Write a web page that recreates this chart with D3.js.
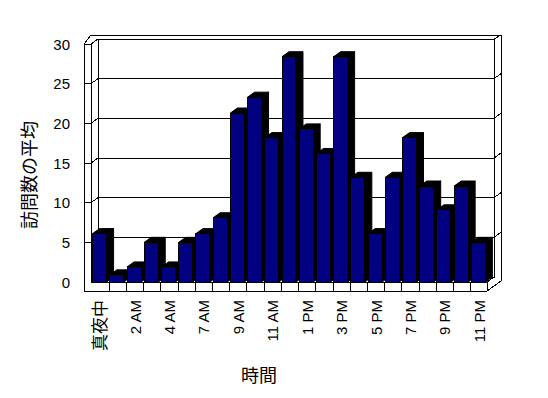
<!DOCTYPE html>
<html>
<head>
<meta charset="utf-8">
<script src="https://cdn.jsdelivr.net/npm/d3@7"></script>
<style>
  body { margin: 0; background: #fff; }
  text { font-family: "Liberation Sans", "Noto Sans CJK JP", sans-serif; fill: #000; }
</style>
</head>
<body>
<svg id="chart" width="548" height="398"></svg>
<script>
var hours = ['真夜中', '1 AM', '2 AM', '3 AM', '4 AM', '6 AM', '7 AM', '8 AM', '9 AM', '10 AM', '11 AM', '12 PM',
  '1 PM', '2 PM', '3 PM', '4 PM', '5 PM', '6 PM', '7 PM', '8 PM', '9 PM', '10 PM', '11 PM']
var visits = [6.1, 0.9, 1.9, 5.0, 1.9, 5.0, 6.1, 8.1, 21.3, 23.3, 18.2, 28.4,
  19.3, 16.2, 28.4, 13.2, 6.1, 13.2, 18.2, 12.1, 9.1, 12.1, 5.0]
var yTicks = [0, 5, 10, 15, 20, 25, 30]
var yTitle = '訪問数の平均'
var xTitle = '時間'

var svg = d3.select('#chart')
svg.append('rect').attr('width', 548).attr('height', 398).attr('fill', '#fff')

// oblique depth: front plane -> back plane
var dx = 7, dy = -5
var wallX = 84, floorY = 291

var x = d3.scaleBand().domain(hours).range([91, 487]).paddingInner(0.19).paddingOuter(0.095)
var y = d3.scaleLinear().domain([0, 30]).range([282, 44])
var step = x.step(), bw = x.bandwidth()
var fx0 = x.range()[0], fx1 = x.range()[1]
var y0 = y(0), yTop = y(30)

var frame = svg.append('g')
  .attr('fill', 'none').attr('stroke', '#000').attr('stroke-width', 1)
  .attr('shape-rendering', 'crispEdges')

function line(g, pts){
  g.append('path').attr('d', d3.line()(pts))
}

// outer outline of walls + floor
frame.append('path')
  .attr('fill', '#fff')
  .attr('d', d3.line()([
    [wallX, floorY], [wallX, yTop], [fx0, yTop + dy - 4], [fx1 + 2*dx, yTop + dy - 4],
    [fx1 + 2*dx, y0 - 1], [fx1, floorY], [wallX, floorY]
  ]))

// back wall face
frame.append('rect')
  .attr('x', fx0 + dx).attr('y', yTop + dy)
  .attr('width', fx1 - fx0).attr('height', y0 - yTop)
  .attr('fill', '#fff')

// left wall inner edge, top joins
line(frame, [[fx0, yTop], [fx0, y0]])
line(frame, [[wallX, yTop], [fx0, yTop], [fx0 + dx, yTop + dy]])
line(frame, [[fx1 + dx, yTop + dy], [fx1 + 2*dx, yTop + 2*dy + 1]])

// gridlines on walls
yTicks.filter(d => d > 0 && d < 30).forEach(v => {
  var yy = y(v)
  line(frame, [[wallX, yy], [fx0, yy], [fx0 + dx, yy + dy], [fx1 + dx, yy + dy], [fx1 + 2*dx, yy + 2*dy]])
})

// floor
line(frame, [[fx0, y0], [fx0 + dx, y0 + dy]])
line(frame, [[fx0, y0], [fx1, y0], [fx1 + dx, y0 + dy]])
line(frame, [[fx1, y0], [fx1, floorY]])
d3.range(1, hours.length).forEach(i => {
  var xx = fx0 + i*step + 1
  line(frame, [[xx, y0], [xx, floorY]])
})

// bars, left to right so the next front face hides the previous side
var barSel = svg.append('g').selectAll('g')
  .data(hours.map((h, i) => ({h, v: visits[i]})))
  .join('g')

barSel.append('path')
  .attr('fill', '#000').attr('stroke', '#000')
  .attr('d', d => {
    var xl = x(d.h), xr = x(d.h) + bw, yt = y(d.v)
    return d3.line()([[xr, yt], [xr + dx, yt + dy], [xr + dx, y0 + dy], [xr, y0]]) + 'Z' +
      d3.line()([[xl, yt], [xl + dx, yt + dy], [xr + dx, yt + dy], [xr, yt]]) + 'Z'
  })

barSel.append('rect')
  .attr('x', d => x(d.h)).attr('y', d => y(d.v))
  .attr('width', bw).attr('height', d => y0 - y(d.v))
  .attr('fill', '#000080').attr('stroke', '#000')
  .attr('shape-rendering', 'crispEdges')

// y axis labels
svg.append('g').selectAll('text')
  .data(yTicks)
  .join('text')
  .attr('x', 70).attr('y', d => y(d))
  .attr('text-anchor', 'end').attr('dominant-baseline', 'central')
  .attr('font-size', 15)
  .text(d => d)

// x axis labels, every other hour
svg.append('g').selectAll('text')
  .data(hours.filter((d, i) => i % 2 == 0))
  .join('text')
  .attr('transform', d => `translate(${x(d) + bw/2 + 1},300) rotate(-90)`)
  .attr('text-anchor', 'end').attr('dominant-baseline', 'central')
  .attr('font-size', d => /[^\x00-\x7f]/.test(d) ? 17 : 15)
  .text(d => d)

svg.append('text')
  .attr('transform', 'translate(30,175) rotate(-90)')
  .attr('text-anchor', 'middle').attr('dominant-baseline', 'central')
  .attr('font-size', 18)
  .text(yTitle)

svg.append('text')
  .attr('x', 259).attr('y', 376)
  .attr('text-anchor', 'middle').attr('dominant-baseline', 'central')
  .attr('font-size', 18)
  .text(xTitle)
</script>
</body>
</html>
